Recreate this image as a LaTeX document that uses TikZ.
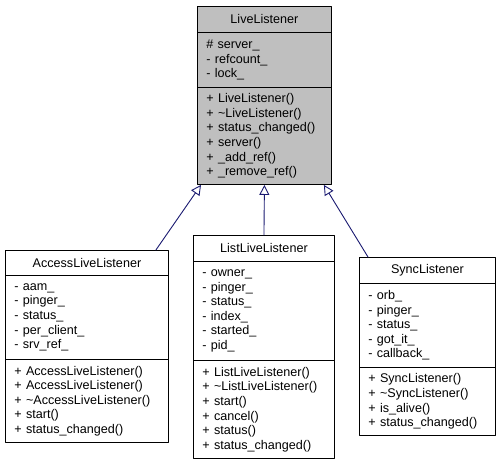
\documentclass[tikz,border=0pt]{standalone}
\usepackage{fontspec}
\setmainfont{Liberation Sans}
\usetikzlibrary{arrows.meta}
\definecolor{edgeblue}{HTML}{191970}
\definecolor{basegray}{HTML}{BFBFBF}
\tikzset{
	classpart/.style={draw=black,line width=0.9pt,anchor=north west,inner ysep=0pt,inner xsep=9pt,
		font=\fontsize{12.6}{14.6}\selectfont},
	classhead/.style={classpart,align=center},
	classbody/.style={classpart,align=left},
	inherit/.style={draw=edgeblue,line width=0.9pt,-{Triangle[open,length=10pt,width=10pt]}}
}
\begin{document}
\begin{tikzpicture}[line cap=round,line join=round,x=1pt,y=-1pt]
	\useasboundingbox (0,0) rectangle (499,464);
	% base class
	\node[classhead,fill=basegray,text width=116pt,minimum height=26pt] (livehead) at (197,6) {LiveListener};
	\node[classbody,fill=basegray,text width=116pt,minimum height=55pt] (liveattr) at (197,32) {\# server\_\\- refcount\_\\- lock\_};
	\node[classbody,fill=basegray,text width=116pt,minimum height=97pt] (liveops) at (197,87) {+ LiveListener()\\+ \textasciitilde LiveListener()\\+ status\_changed()\\+ server()\\+ \_add\_ref()\\+ \_remove\_ref()};
	% derived classes
	\node[classhead,text width=145pt,minimum height=25pt] (acchead) at (5,250) {AccessLiveListener};
	\node[classbody,text width=145pt,minimum height=84pt] (accattr) at (5,275) {- aam\_\\- pinger\_\\- status\_\\- per\_client\_\\- srv\_ref\_};
	\node[classbody,text width=145pt,minimum height=83pt] (accops) at (5,359) {+ AccessLiveListener()\\+ AccessLiveListener()\\+ \textasciitilde AccessLiveListener()\\+ start()\\+ status\_changed()};
	\node[classhead,text width=123pt,minimum height=26pt] (listhead) at (193,235) {ListLiveListener};
	\node[classbody,text width=123pt,minimum height=99pt] (listattr) at (193,261) {- owner\_\\- pinger\_\\- status\_\\- index\_\\- started\_\\- pid\_};
	\node[classbody,text width=123pt,minimum height=98pt] (listops) at (193,360) {+ ListLiveListener()\\+ \textasciitilde ListLiveListener()\\+ start()\\+ cancel()\\+ status()\\+ status\_changed()};
	\node[classhead,text width=118pt,minimum height=26pt] (synchead) at (359,257) {SyncListener};
	\node[classbody,text width=118pt,minimum height=84pt] (syncattr) at (359,283) {- orb\_\\- pinger\_\\- status\_\\- got\_it\_\\- callback\_};
	\node[classbody,text width=118pt,minimum height=68pt] (syncops) at (359,367) {+ SyncListener()\\+ \textasciitilde SyncListener()\\+ is\_alive()\\+ status\_changed()};
	% inheritance
	\draw[inherit] ([xshift=-13pt]acchead.north east) -- ([xshift=4pt]liveops.south west);
	\draw[inherit] (listhead.north) -- (liveops.south);
	\draw[inherit] ([xshift=9pt]synchead.north west) -- ([xshift=-8pt]liveops.south east);
\end{tikzpicture}
\end{document}
